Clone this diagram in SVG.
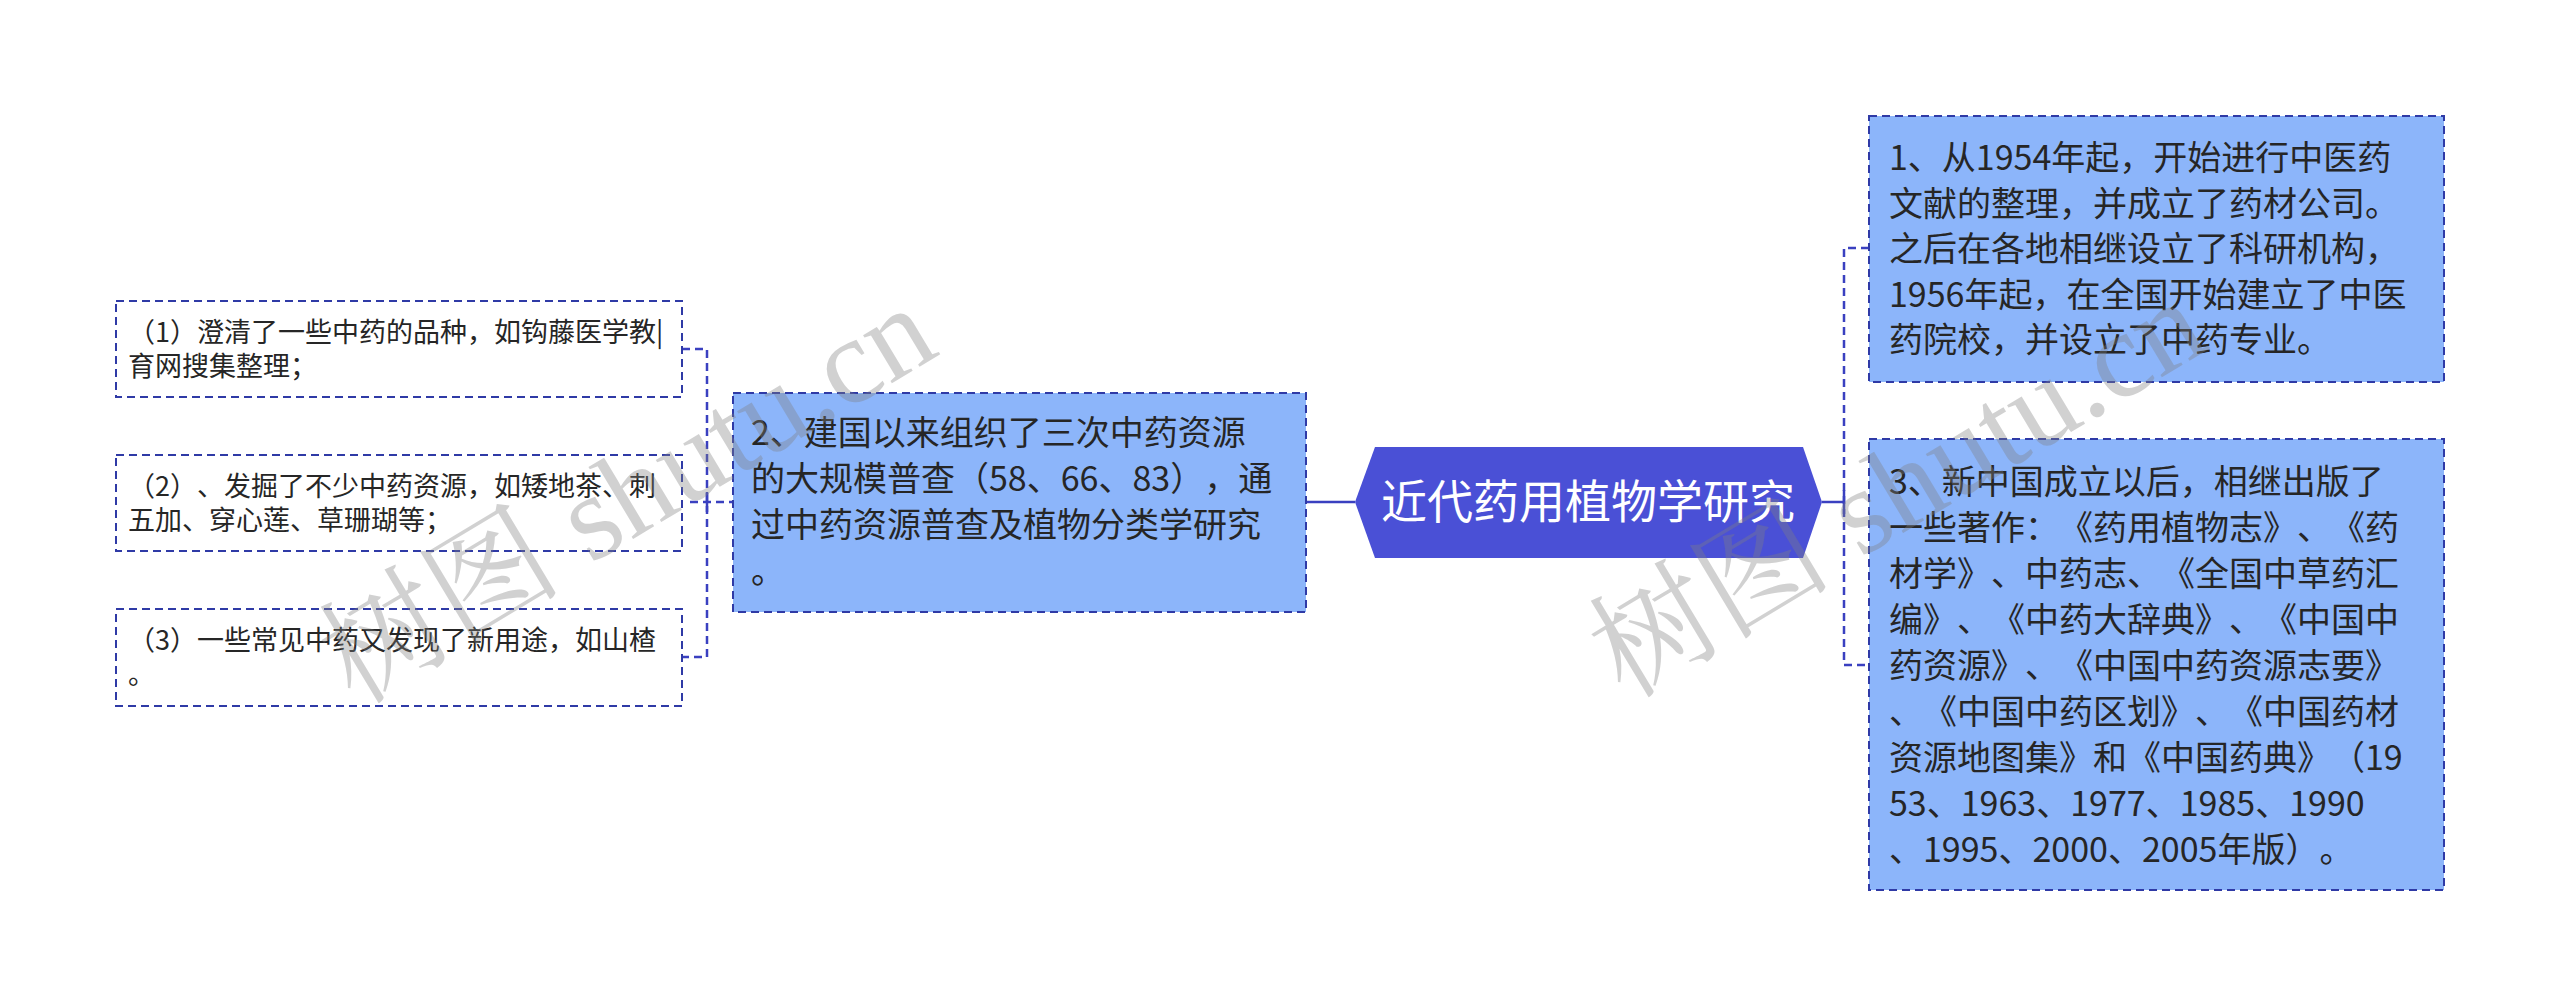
<svg xmlns="http://www.w3.org/2000/svg" width="2560" height="1006" viewBox="0 0 2560 1006">
<style>
.box{fill:#8cb5fa;stroke:#2f3aa6;stroke-width:2;stroke-dasharray:8 5}
.leaf{fill:#ffffff;stroke:#2f3aa6;stroke-width:2;stroke-dasharray:8 5}
.conn{fill:none;stroke:#3a40c0;stroke-width:2.5;stroke-dasharray:8 5}
.solid{fill:none;stroke:#3a40c0;stroke-width:2.5}
.t{font-family:"Noto Sans CJK SC","Noto Sans",sans-serif;fill:#262626;text-spacing-trim:space-all}
.t34{font-size:34px}
.t26{font-size:27px}
.ct{font-family:"Noto Sans CJK SC","Noto Sans",sans-serif;font-size:46px;fill:#ffffff}
.wm{font-family:"Liberation Serif","Noto Serif CJK SC","Noto Sans CJK SC",serif;font-size:122px;fill:#808080;fill-opacity:0.36}
</style>
<rect width="2560" height="1006" fill="#ffffff"/>
<g id="connectors">
<path class="solid" d="M1306 502 H1355"/>
<path class="solid" d="M1822 502 H1844"/>
<path class="solid" d="M1844 490 V514"/>
<path class="conn" d="M1869 248 H1844 V665 H1869"/>
<path class="conn" d="M682 349 H707 V657 H682"/>
<path class="conn" d="M690 502 H733"/>
<path class="solid" d="M707 492 V512"/>
</g>
<g id="center">
<polygon points="1355,502 1375,447 1803,447 1822,502 1803,558 1375,558" fill="#4a50d6"/>
<text class="ct" x="1588" y="518" text-anchor="middle">近代药用植物学研究</text>
</g>
<g id="node-r1">
<rect class="box" x="1869" y="116" width="575" height="266"/>
<text class="t t34" x="1889" y="170">1、从1954年起，开始进行中医药</text>
<text class="t t34" x="1889" y="215.5">文献的整理，并成立了药材公司。</text>
<text class="t t34" x="1889" y="261">之后在各地相继设立了科研机构，</text>
<text class="t t34" x="1889" y="306.5">1956年起，在全国开始建立了中医</text>
<text class="t t34" x="1889" y="352">药院校，并设立了中药专业。</text>
</g>
<g id="node-r2">
<rect class="box" x="1869" y="439" width="575" height="451"/>
<text class="t t34" x="1889" y="494">3、新中国成立以后，相继出版了</text>
<text class="t t34" x="1889" y="540">一些著作：《药用植物志》、《药</text>
<text class="t t34" x="1889" y="586">材学》、中药志、《全国中草药汇</text>
<text class="t t34" x="1889" y="632">编》、《中药大辞典》、《中国中</text>
<text class="t t34" x="1889" y="678">药资源》、《中国中药资源志要》</text>
<text class="t t34" x="1889" y="724">、《中国中药区划》、《中国药材</text>
<text class="t t34" x="1889" y="770">资源地图集》和《中国药典》（19</text>
<text class="t t34" x="1889" y="816">53、1963、1977、1985、1990</text>
<text class="t t34" x="1889" y="862">、1995、2000、2005年版）。</text>
</g>
<g id="node-mid">
<rect class="box" x="733" y="393" width="573" height="219"/>
<text class="t t34" x="751" y="445">2、建国以来组织了三次中药资源</text>
<text class="t t34" x="751" y="491">的大规模普查（58、66、83），通</text>
<text class="t t34" x="751" y="537">过中药资源普查及植物分类学研究</text>
<text class="t t34" x="751" y="583">。</text>
</g>
<g id="node-l1">
<rect class="leaf" x="116" y="301" width="566" height="96"/>
<text class="t t26" x="128" y="342">（1）澄清了一些中药的品种，如钩藤医学教|</text>
<text class="t t26" x="128" y="376">育网搜集整理；</text>
</g>
<g id="node-l2">
<rect class="leaf" x="116" y="455" width="566" height="96"/>
<text class="t t26" x="128" y="496">（2）、发掘了不少中药资源，如矮地茶、刺</text>
<text class="t t26" x="128" y="530">五加、穿心莲、草珊瑚等；</text>
</g>
<g id="node-l3">
<rect class="leaf" x="116" y="609" width="566" height="97"/>
<text class="t t26" x="128" y="650">（3）一些常见中药又发现了新用途，如山楂</text>
<text class="t t26" x="128" y="684">。</text>
</g>
<g id="watermarks">
<text class="wm" transform="translate(355 706) rotate(-31)">树图 shutu.cn</text>
<text class="wm" transform="translate(1625 700) rotate(-31)">树图 shutu.cn</text>
</g>
</svg>
